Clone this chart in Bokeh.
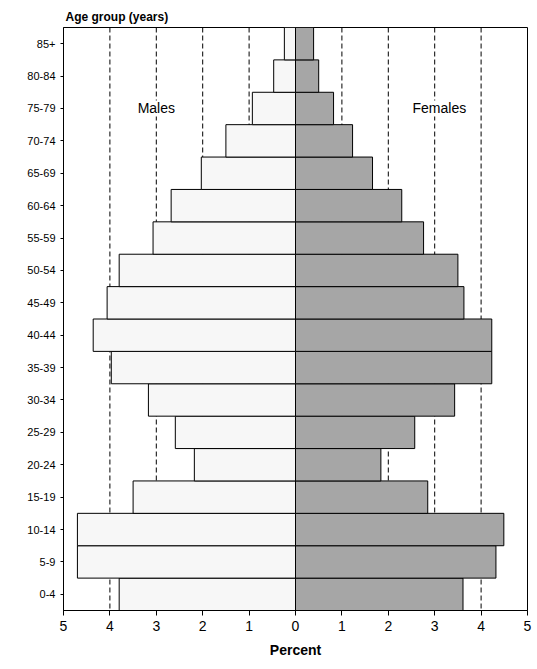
from bokeh.embed import file_html
from bokeh.models import ColumnDataSource, CustomJSTickFormatter, FixedTicker, Label, Span
from bokeh.plotting import figure
from bokeh.resources import INLINE

ages = ["0-4", "5-9", "10-14", "15-19", "20-24", "25-29", "30-34", "35-39", "40-44",
        "45-49", "50-54", "55-59", "60-64", "65-69", "70-74", "75-79", "80-84", "85+"]
males = [3.8, 4.7, 4.7, 3.5, 2.18, 2.59, 3.17, 3.97, 4.36,
         4.06, 3.8, 3.07, 2.68, 2.03, 1.5, 0.93, 0.47, 0.24]
females = [3.61, 4.32, 4.49, 2.85, 1.84, 2.57, 3.43, 4.23, 4.23,
           3.63, 3.5, 2.76, 2.29, 1.66, 1.23, 0.82, 0.5, 0.39]

FONT = "Liberation Sans"

src = ColumnDataSource(dict(age=ages, m=[-v for v in males], f=females))

p = figure(width=535, height=660, y_range=ages, x_range=(-5, 5),
           output_backend="svg", toolbar_location=None,
           min_border_left=63, min_border_right=8, min_border_bottom=10, min_border_top=27)
p.title.text = "Age group (years)"
p.title.align = "left"
p.title.offset = 2
p.title.text_font = FONT
p.title.text_font_size = "12px"
p.title.text_font_style = "bold"
p.title.text_color = "black"
p.title.standoff = 7

for v in [-4, -3, -2, -1, 1, 2, 3, 4]:
    p.add_layout(Span(location=v, dimension="height", line_color="black",
                      line_dash="5 3", line_width=1, level="underlay"))

p.hbar(y="age", left="m", right=0, height=1.0, source=src,
       fill_color="#f7f7f7", line_color="black", line_width=1)
p.hbar(y="age", left=0, right="f", height=1.0, source=src,
       fill_color="#a6a6a6", line_color="black", line_width=1)

p.add_layout(Label(x=-3, y=15.5, text="Males", text_align="center", text_baseline="middle",
                   text_font=FONT, text_font_size="14px", text_color="black",
                   background_fill_color="white"))
p.add_layout(Label(x=3.1, y=15.5, text="Females", text_align="center", text_baseline="middle",
                   text_font=FONT, text_font_size="14px", text_color="black",
                   background_fill_color="white"))

p.xgrid.visible = False
p.ygrid.visible = False
p.outline_line_color = "black"
p.outline_line_width = 1

p.xaxis.ticker = FixedTicker(ticks=[-5, -4, -3, -2, -1, 0, 1, 2, 3, 4, 5])
p.xaxis.formatter = CustomJSTickFormatter(code="return Math.abs(tick).toString();")
p.xaxis.axis_label = "Percent"
p.xaxis.axis_label_text_font = FONT
p.xaxis.axis_label_text_font_style = "bold"
p.xaxis.axis_label_text_font_size = "14px"
p.xaxis.axis_label_text_color = "black"
p.xaxis.axis_label_standoff = 8
p.xaxis.major_label_text_font_size = "14px"
p.xaxis.minor_tick_line_color = None
p.yaxis.major_label_text_font_size = "11px"
p.yaxis.major_tick_out = 3
p.yaxis.major_tick_in = 0
p.xaxis.major_tick_out = 5
p.xaxis.major_tick_in = 0
for ax in (p.xaxis[0], p.yaxis[0]):
    ax.major_label_text_font = FONT
    ax.major_label_text_color = "black"
    ax.axis_line_color = "black"
    ax.major_tick_line_color = "black"

open("out.html", "w").write(file_html(p, INLINE))
